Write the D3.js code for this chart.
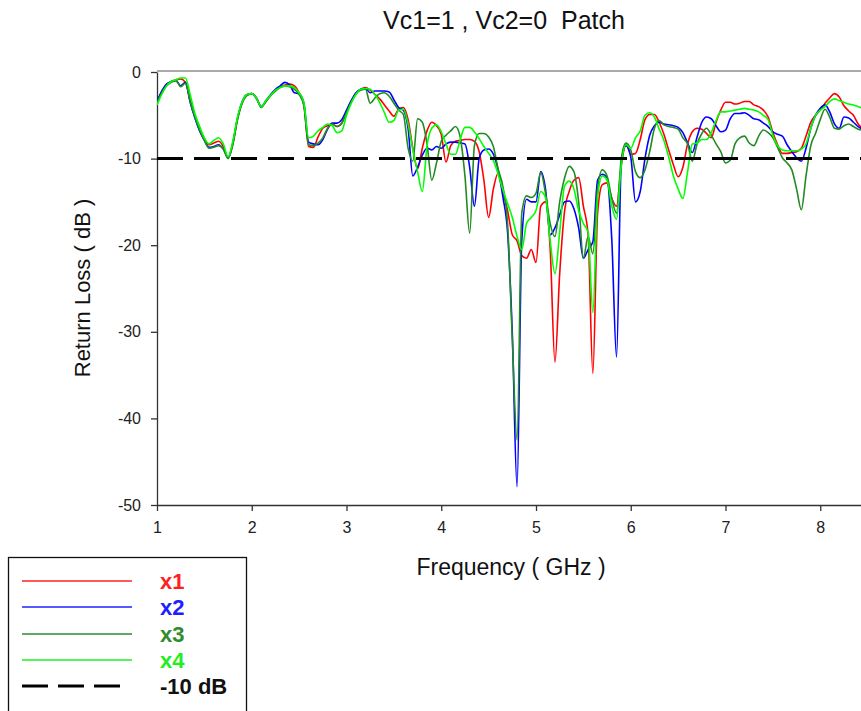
<!DOCTYPE html>
<html>
<head>
<meta charset="utf-8">
<script src="https://cdn.jsdelivr.net/npm/d3@7"></script>
<style>
  body { margin: 0; background: #fff; }
  text { font-family: "Liberation Sans", Arial, sans-serif; }
</style>
</head>
<body>
<div id="chart"></div>
<script>
// frequency grid (GHz), 0.05 step
var freq = d3.range(0, 150).map(function(i) { return +(1 + i * 0.05).toFixed(2); });

// return loss (dB), one value per freq point
var x1 = [
  -3.5,-2.3,-1.5,-1.1,-0.9,-0.8,-1.2,-3.2,-5.0,-6.5,
  -7.7,-8.4,-8.2,-8.0,-8.6,-9.9,-8.3,-5.4,-3.5,-2.7,
  -2.5,-3.0,-4.0,-3.4,-2.7,-2.1,-1.7,-1.5,-1.4,-1.6,
  -2.4,-3.8,-8.6,-8.7,-7.5,-6.5,-6.2,-6.0,-6.3,-5.9,
  -4.6,-3.4,-2.5,-2.0,-1.8,-2.1,-2.6,-3.1,-3.8,-4.5,
  -5.1,-4.3,-4.1,-5.5,-8.8,-11.2,-8.8,-6.8,-5.8,-6.2,
  -7.2,-10.4,-8.5,-8.0,-7.9,-7.8,-7.8,-8.0,-9.2,-12.5,
  -16.8,-13.5,-11.7,-13.8,-16.0,-18.8,-19.5,-21.2,-21.5,-20.5,
  -22.0,-15.5,-15.0,-20.5,-33.5,-23.3,-16.2,-13.8,-12.5,-12.2,
  -15.5,-18.8,-34.8,-16.3,-13.0,-12.8,-14.6,-15.5,-10.8,-8.3,
  -9.5,-9.4,-7.8,-5.5,-4.9,-4.9,-5.8,-7.2,-9.0,-10.7,
  -12.1,-11.0,-8.3,-6.9,-6.5,-6.6,-7.1,-7.6,-5.8,-4.4,
  -3.5,-3.5,-3.7,-3.6,-3.4,-3.4,-3.8,-4.0,-4.4,-5.2,
  -7.0,-8.4,-9.4,-9.4,-9.3,-9.2,-8.8,-7.4,-5.8,-5.0,
  -4.4,-3.6,-3.0,-2.5,-2.9,-3.9,-4.5,-5.0,-6.0,-6.5
];
var x2 = [
  -3.4,-2.2,-1.4,-1.1,-1.0,-1.6,-1.2,-3.5,-5.3,-6.8,
  -7.9,-8.7,-8.6,-8.4,-8.9,-9.9,-8.2,-5.3,-3.4,-2.6,
  -2.5,-3.0,-4.0,-3.3,-2.6,-2.0,-1.6,-1.2,-1.5,-2.4,
  -2.5,-3.6,-8.1,-8.3,-8.4,-7.8,-6.6,-5.9,-5.9,-5.5,
  -4.4,-3.3,-2.4,-2.0,-1.9,-2.4,-2.2,-2.2,-2.2,-2.3,
  -3.2,-4.1,-4.4,-6.5,-12.0,-11.0,-9.6,-8.8,-9.0,-8.6,
  -8.8,-8.3,-8.1,-8.1,-8.2,-8.3,-11.0,-15.5,-10.0,-9.0,
  -8.9,-9.5,-11.3,-14.4,-18.5,-30.2,-47.9,-19.4,-14.7,-15.0,
  -15.0,-11.5,-13.5,-18.8,-18.0,-16.5,-15.0,-14.9,-15.8,-18.0,
  -21.5,-20.5,-19.6,-12.5,-11.8,-12.2,-19.4,-32.9,-10.5,-8.5,
  -9.8,-15.0,-13.8,-10.0,-7.3,-6.2,-5.8,-6.0,-6.1,-6.2,
  -6.4,-7.0,-8.2,-9.3,-7.5,-5.8,-5.2,-5.4,-6.2,-6.9,
  -6.7,-5.4,-4.8,-4.8,-4.7,-5.0,-5.4,-5.5,-5.9,-6.3,
  -6.9,-7.2,-7.4,-8.4,-9.2,-9.9,-10.3,-8.8,-6.5,-5.0,
  -4.2,-3.8,-4.6,-6.0,-6.5,-5.2,-5.3,-5.8,-6.3,-6.6
];
var x3 = [
  -3.6,-2.4,-1.6,-1.2,-1.0,-1.7,-1.3,-3.4,-5.2,-6.7,
  -7.9,-8.8,-8.7,-8.5,-8.9,-10.0,-8.4,-5.5,-3.6,-2.7,
  -2.5,-3.1,-4.1,-3.4,-2.7,-2.2,-1.8,-1.6,-1.7,-2.0,
  -2.6,-3.9,-8.4,-8.5,-8.2,-7.6,-6.5,-6.0,-6.3,-5.9,
  -4.7,-3.5,-2.5,-2.1,-2.0,-3.6,-3.0,-2.5,-2.4,-2.8,
  -3.6,-4.4,-4.9,-8.8,-10.3,-5.4,-5.8,-8.3,-12.5,-10.5,
  -8.0,-7.3,-6.8,-6.3,-7.5,-12.0,-18.6,-8.5,-7.1,-7.1,
  -7.5,-8.6,-11.2,-13.2,-17.5,-30.9,-42.5,-16.3,-14.3,-14.5,
  -14.0,-11.6,-14.0,-17.5,-19.0,-15.0,-12.3,-10.9,-11.5,-15.0,
  -21.5,-19.0,-21.0,-13.4,-11.3,-12.0,-14.6,-16.3,-10.0,-8.2,
  -9.0,-11.5,-12.2,-11.3,-9.2,-6.5,-5.6,-6.1,-6.3,-6.4,
  -6.6,-7.6,-8.3,-10.3,-8.3,-7.1,-6.5,-7.3,-8.3,-9.2,
  -10.5,-10.2,-8.3,-7.6,-7.4,-8.2,-8.5,-7.4,-6.7,-7.0,
  -7.6,-8.7,-9.9,-10.5,-11.3,-13.5,-15.9,-12.0,-8.5,-7.1,
  -5.5,-4.3,-5.2,-6.5,-6.6,-6.2,-6.0,-6.3,-6.6,-6.7
];
var x4 = [
  -3.8,-2.6,-1.6,-1.1,-0.9,-0.7,-0.7,-2.6,-4.8,-6.3,
  -7.6,-8.3,-7.9,-7.6,-8.3,-9.8,-8.0,-5.2,-3.4,-2.6,
  -2.5,-3.0,-4.0,-3.3,-2.7,-2.1,-1.8,-1.6,-1.6,-1.8,
  -2.4,-3.5,-7.6,-7.4,-6.8,-6.4,-6.0,-6.2,-7.0,-6.8,
  -5.0,-3.6,-2.6,-2.0,-1.9,-2.0,-2.6,-3.5,-4.7,-5.8,
  -5.6,-4.4,-4.3,-6.0,-9.0,-11.5,-13.8,-8.5,-6.5,-6.1,
  -6.9,-8.3,-9.5,-9.5,-7.8,-6.4,-6.4,-6.9,-7.7,-8.6,
  -9.4,-10.2,-11.8,-13.6,-15.2,-16.8,-19.0,-20.5,-17.5,-16.8,
  -16.0,-13.8,-14.5,-19.5,-23.3,-18.5,-13.2,-12.6,-13.5,-16.0,
  -17.5,-18.5,-27.8,-14.5,-12.0,-12.5,-15.5,-17.0,-10.8,-8.4,
  -8.8,-7.6,-6.8,-5.0,-4.7,-5.2,-6.6,-7.9,-9.8,-12.0,
  -13.5,-14.6,-11.5,-8.3,-8.2,-7.8,-7.8,-7.0,-5.6,-4.6,
  -4.6,-4.5,-4.4,-4.3,-4.2,-4.3,-4.4,-4.6,-5.0,-5.5,
  -7.3,-8.5,-9.0,-9.1,-9.1,-9.1,-8.9,-8.3,-6.5,-5.0,
  -4.4,-4.0,-3.4,-3.1,-3.3,-3.5,-3.7,-3.8,-4.0,-4.2
];

var seriesNames = ["x1", "x2", "x3", "x4"];
var seriesValues = [x1, x2, x3, x4];
var seriesColors = ["#ff0000", "#0000ff", "#238b23", "#00ff00"];
var legendColors = ["#ff2020", "#2020ff", "#2e8b2e", "#22ee22"];
var refLevel = -10;
var xTicks = [1, 2, 3, 4, 5, 6, 7, 8];
var yTicks = [0, -10, -20, -30, -40, -50];

var svgWidth = 861;
var svgHeight = 711;

var svg = d3.select("#chart")
  .append("svg")
  .attr("width", svgWidth)
  .attr("height", svgHeight);

svg.append("rect").attr("width", svgWidth).attr("height", svgHeight).attr("fill", "#fff");

var xScale = d3.scaleLinear().domain([1, 8.43]).range([157, 861]);
var yScale = d3.scaleLinear().domain([-50, 0]).range([505, 72]);

svg.append("defs").append("clipPath").attr("id", "plot-clip")
  .append("rect")
  .attr("x", 157).attr("y", 66)
  .attr("width", svgWidth - 157).attr("height", 505 - 66);

// top frame line
svg.append("line")
  .attr("x1", 157).attr("x2", svgWidth)
  .attr("y1", 71).attr("y2", 71)
  .attr("stroke", "#555").attr("stroke-width", 1.2);

// axes (plain hyphen for negatives, like the original)
var fmt = function(d) { return String(d); };
var xAxis = svg.append("g")
  .attr("transform", "translate(0,505)")
  .call(d3.axisBottom(xScale).tickValues(xTicks).tickFormat(fmt).tickSize(6).tickSizeOuter(0).tickPadding(11));
var yAxis = svg.append("g")
  .attr("transform", "translate(157,0)")
  .call(d3.axisLeft(yScale).tickValues(yTicks).tickFormat(fmt).tickSize(6).tickSizeOuter(0).tickPadding(10));

[xAxis, yAxis].forEach(function(ax) {
  ax.select(".domain").attr("stroke", "#333").attr("stroke-width", 1.3);
  ax.selectAll(".tick line").attr("stroke", "#333").attr("stroke-width", 1.3);
  ax.selectAll(".tick text")
    .attr("fill", "#222")
    .style("font-size", "16px")
    .style("font-family", "'Liberation Sans', Arial, sans-serif");
});

// curves
var createLine = d3.line()
  .x(function(d, i) { return xScale(freq[i]); })
  .y(function(d) { return yScale(d); })
  .curve(d3.curveMonotoneX);

var plot = svg.append("g").attr("clip-path", "url(#plot-clip)");

seriesValues.forEach(function(vals, k) {
  plot.append("path")
    .attr("fill", "none")
    .attr("stroke", seriesColors[k])
    .attr("stroke-width", 1.6)
    .attr("d", createLine(vals));
});

// -10 dB reference
plot.append("line")
  .attr("x1", xScale(1)).attr("x2", svgWidth)
  .attr("y1", yScale(refLevel)).attr("y2", yScale(refLevel))
  .attr("stroke", "#000")
  .attr("stroke-width", 3)
  .attr("stroke-dasharray", "26,11");

// titles
svg.append("text")
  .attr("x", 504).attr("y", 29)
  .attr("text-anchor", "middle")
  .style("font-size", "25px")
  .style("white-space", "pre")
  .attr("fill", "#111")
  .text("Vc1=1 , Vc2=0  Patch");

svg.append("text")
  .attr("x", 511).attr("y", 575)
  .attr("text-anchor", "middle")
  .style("font-size", "23px")
  .attr("fill", "#111")
  .text("Frequency ( GHz )");

svg.append("text")
  .attr("transform", "translate(90,288) rotate(-90)")
  .attr("text-anchor", "middle")
  .style("font-size", "22px")
  .attr("fill", "#111")
  .text("Return Loss ( dB )");

// legend
var legend = svg.append("g");
legend.append("rect")
  .attr("x", 8.5).attr("y", 557.5)
  .attr("width", 238).attr("height", 160)
  .attr("fill", "none")
  .attr("stroke", "#111")
  .attr("stroke-width", 1.3);

var legendY = [581, 607, 634, 660, 686];
seriesNames.forEach(function(name, k) {
  legend.append("line")
    .attr("x1", 22).attr("x2", 132)
    .attr("y1", legendY[k]).attr("y2", legendY[k])
    .attr("stroke", legendColors[k])
    .attr("stroke-width", 1.3);
  legend.append("text")
    .attr("x", 160).attr("y", legendY[k] + 8)
    .style("font-size", "22px")
    .style("font-weight", "bold")
    .attr("fill", legendColors[k])
    .text(name);
});
legend.append("line")
  .attr("x1", 22).attr("x2", 124)
  .attr("y1", legendY[4]).attr("y2", legendY[4])
  .attr("stroke", "#000")
  .attr("stroke-width", 3)
  .attr("stroke-dasharray", "26,10");
legend.append("text")
  .attr("x", 160).attr("y", legendY[4] + 8)
  .style("font-size", "22px")
  .style("font-weight", "bold")
  .attr("fill", "#111")
  .text("-10 dB");
</script>
</body>
</html>
